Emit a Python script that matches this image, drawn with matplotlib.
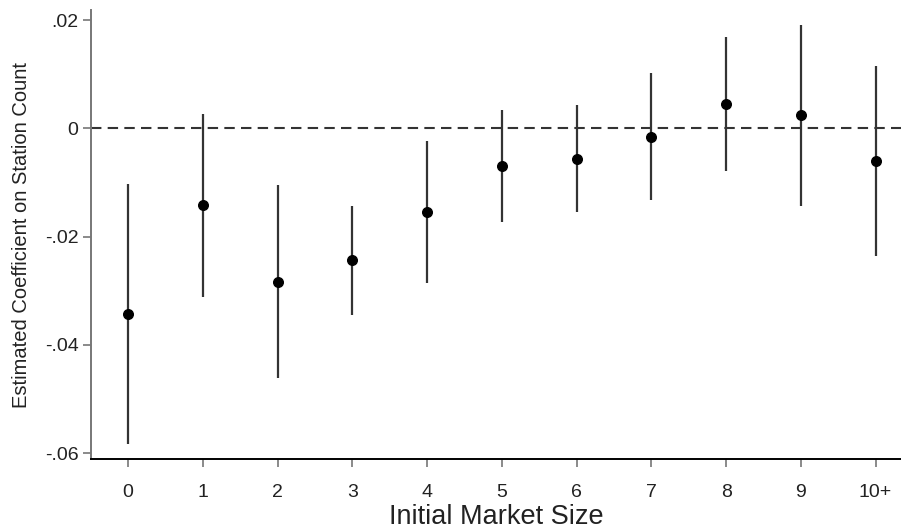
import matplotlib
matplotlib.use("Agg")
import matplotlib.pyplot as plt

# Coefficient estimates with 95% confidence bounds by initial market size
sizes = ["0", "1", "2", "3", "4", "5", "6", "7", "8", "9", "10+"]
coef = [-0.0343, -0.0142, -0.0283, -0.0244, -0.0154, -0.0069, -0.0056, -0.0015, 0.0045, 0.0024, -0.0060]
ci_low = [-0.0583, -0.0311, -0.0461, -0.0344, -0.0285, -0.0172, -0.0154, -0.0133, -0.0079, -0.0144, -0.0235]
ci_high = [-0.0102, 0.0026, -0.0104, -0.0144, -0.0024, 0.0035, 0.0043, 0.0102, 0.0170, 0.0191, 0.0115]

yticks = [0.02, 0, -0.02, -0.04, -0.06]
ytick_labels = [".02", "0", "-.02", "-.04", "-.06"]

plt.rcParams["font.family"] = ["Liberation Sans", "DejaVu Sans"]

fig = plt.figure(figsize=(9.01, 5.31), dpi=100)
ax = fig.add_axes([91 / 901, 1 - 459 / 531, 1 - 91 / 901, 449 / 531])

x = list(range(len(sizes)))
ax.vlines(x, ci_low, ci_high, color="#333333", linewidth=1.6)
ax.scatter(x, coef, s=48, color="black", zorder=3)
ax.axhline(0, color="#333333", linewidth=1.5, linestyle=(0, (5, 3)))

ax.set_xlim(-0.495, 10.34)
ax.set_ylim(-0.0611, 0.0219)
ax.set_xticks(x)
ax.set_xticklabels(sizes, fontsize=14, color="#222222")
ax.set_yticks(yticks)
ax.set_yticklabels(ytick_labels, fontsize=14, color="#222222")

ax.spines["top"].set_visible(False)
ax.spines["right"].set_visible(False)
ax.spines["left"].set_color("#777777")
ax.spines["left"].set_linewidth(1.4)
ax.spines["bottom"].set_color("black")
ax.spines["bottom"].set_linewidth(1.4)
ax.tick_params(axis="y", length=6, width=1.2, color="#777777", pad=3)
ax.tick_params(axis="x", length=6, width=1.2, color="#777777", pad=12)

ax.set_xlabel("Initial Market Size", fontsize=19.5, color="#222222", labelpad=2)
ax.set_ylabel("Estimated Coefficient on Station Count", fontsize=14.5, color="#222222", labelpad=10)

fig.savefig("out.png", dpi=100)
